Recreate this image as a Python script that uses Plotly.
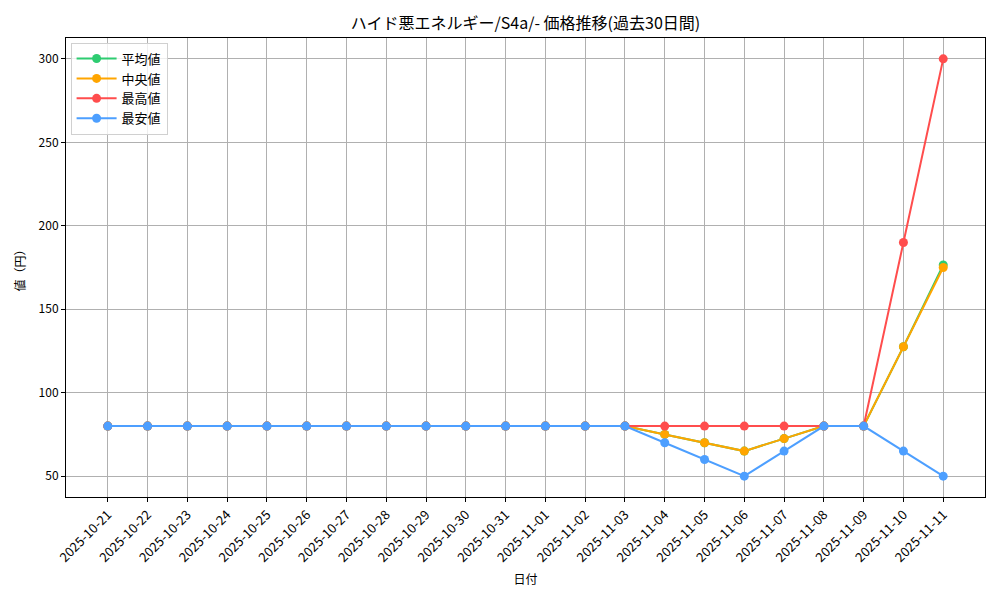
import plotly.graph_objects as go

dates = ["2025-10-21", "2025-10-22", "2025-10-23", "2025-10-24", "2025-10-25",
         "2025-10-26", "2025-10-27", "2025-10-28", "2025-10-29", "2025-10-30",
         "2025-10-31", "2025-11-01", "2025-11-02", "2025-11-03", "2025-11-04",
         "2025-11-05", "2025-11-06", "2025-11-07", "2025-11-08", "2025-11-09",
         "2025-11-10", "2025-11-11"]

mean_vals = [80, 80, 80, 80, 80, 80, 80, 80, 80, 80, 80, 80, 80, 80,
             75, 70, 65, 72.5, 80, 80, 127.5, 176.5]
median_vals = [80, 80, 80, 80, 80, 80, 80, 80, 80, 80, 80, 80, 80, 80,
               75, 70, 65, 72.5, 80, 80, 127.5, 175]
max_vals = [80, 80, 80, 80, 80, 80, 80, 80, 80, 80, 80, 80, 80, 80,
            80, 80, 80, 80, 80, 80, 190, 300]
min_vals = [80, 80, 80, 80, 80, 80, 80, 80, 80, 80, 80, 80, 80, 80,
            70, 60, 50, 65, 80, 80, 65, 50]

series = [
    ("平均値", mean_vals, "#2ecc71"),
    ("中央値", median_vals, "#ffa500"),
    ("最高値", max_vals, "#ff4d4d"),
    ("最安値", min_vals, "#4d9fff"),
]

y_ticks = [50, 100, 150, 200, 250, 300]

FONT = "Noto Sans CJK JP"

fig = go.Figure()
for name, vals, color in series:
    fig.add_trace(go.Scatter(
        x=dates, y=vals, name=name, mode="lines+markers",
        line=dict(color=color, width=2),
        marker=dict(color=color, size=9),
    ))

axis_common = dict(
    showline=True, linecolor="black", linewidth=1, mirror=True,
    ticks="outside", ticklen=4, tickcolor="black",
    showgrid=True, gridcolor="#b0b0b0", gridwidth=1,
    zeroline=False,
)

fig.update_layout(
    width=1000, height=600,
    paper_bgcolor="white", plot_bgcolor="white",
    margin=dict(l=58, r=23, t=30, b=111),
    font=dict(family=FONT, size=12, color="black"),
    title=dict(text="ハイド悪エネルギー/S4a/- 価格推移(過去30日間)",
               x=0.5, xref="paper", xanchor="center",
               y=0.975, yref="container", yanchor="middle",
               font=dict(family=FONT, size=16, color="black")),
    xaxis=dict(
        type="category", categoryorder="array", categoryarray=dates,
        range=[-1.05, len(dates) - 1 + 1.05],
        tickangle=-45,
        tickfont=dict(family=FONT, size=13, color="black"),
        title=dict(text="日付", font=dict(family=FONT, size=12), standoff=10),
        **axis_common,
    ),
    yaxis=dict(
        range=[37.5, 312.5], tickvals=y_ticks,
        tickfont=dict(family=FONT, size=12, color="black"),
        title=dict(text="値（円）", font=dict(family=FONT, size=12), standoff=10),
        **axis_common,
    ),
    legend=dict(
        x=0.005, y=0.99, xanchor="left", yanchor="top",
        bgcolor="rgba(255,255,255,0.8)", bordercolor="#d0d0d0", borderwidth=1,
        font=dict(family=FONT, size=13),
        itemwidth=40, tracegroupgap=2,
    ),
)

fig.write_html("out.html")
